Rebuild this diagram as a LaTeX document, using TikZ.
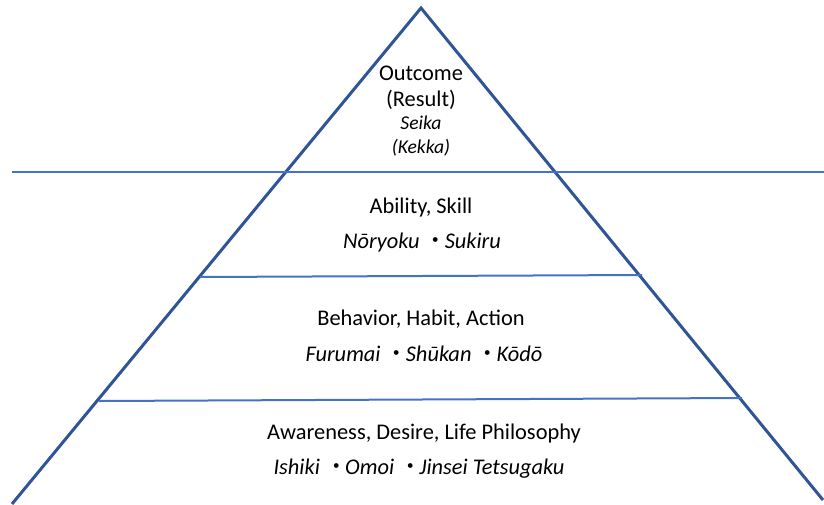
\documentclass[tikz,border=0pt]{standalone}
\usepackage{fontspec}
\setmainfont{Carlito}
\newfontfamily\cjk{Noto Sans CJK JP}
\definecolor{edgeblue}{HTML}{2F5597}
\definecolor{lineblue}{HTML}{4472C4}
% full-width middle dot, pulled slightly towards the following word
\newcommand{\kdot}{{\cjk ・}\hspace{-0.1em}}
\begin{document}
\begin{tikzpicture}[x=1pt,y=-1pt,
  edge/.style={draw=edgeblue,line width=3pt,line join=miter},
  divider/.style={draw=lineblue,line width=2pt},
  main/.style={anchor=base,inner sep=0pt,font=\fontsize{22.4}{26}\selectfont},
  sub/.style={anchor=base,inner sep=0pt,font=\fontsize{19.6}{23}\selectfont\itshape},
  roman/.style={anchor=base,inner sep=0pt,font=\fontsize{22.4}{26}\selectfont\itshape}]
\useasboundingbox (0,0) rectangle (824,504);
% pyramid outline
\coordinate (apex) at (421,8);
\coordinate (bl) at (12,504);
\coordinate (br) at (823,500);
\draw[edge] (bl) -- (apex) -- (br);
% horizontal dividers
\coordinate (d1l) at (12,172);
\coordinate (d1r) at (824,172);
\coordinate (d2l) at (200,277);
\coordinate (d2r) at (642,275);
\coordinate (d3l) at (99,401);
\coordinate (d3r) at (742,398);
\draw[divider] (d1l) -- (d1r);
\draw[divider] (d2l) -- (d2r);
\draw[divider] (d3l) -- (d3r);
% top tier
\node[main] (t1) at (421,80) {Outcome};
\node[main] (t2) at (421,106) {(Result)};
\node[sub] (t3) at (421,129) {Seika};
\node[sub] (t4) at (421,153) {(Kekka)};
% second tier
\node[main] (a1) at (421,213) {Ability, Skill};
\node[roman] (a2) at (422,248) {Nōryoku \kdot Sukiru};
% third tier
\node[main] (b1) at (421,325) {Behavior, Habit, Action};
\node[roman] (b2) at (424,361) {Furumai \kdot Shūkan \kdot Kōdō};
% bottom tier
\node[main] (c1) at (424,439) {Awareness, Desire, Life Philosophy};
\node[roman] (c2) at (419,474) {Ishiki \kdot Omoi \kdot Jinsei Tetsugaku};
\end{tikzpicture}
\end{document}
